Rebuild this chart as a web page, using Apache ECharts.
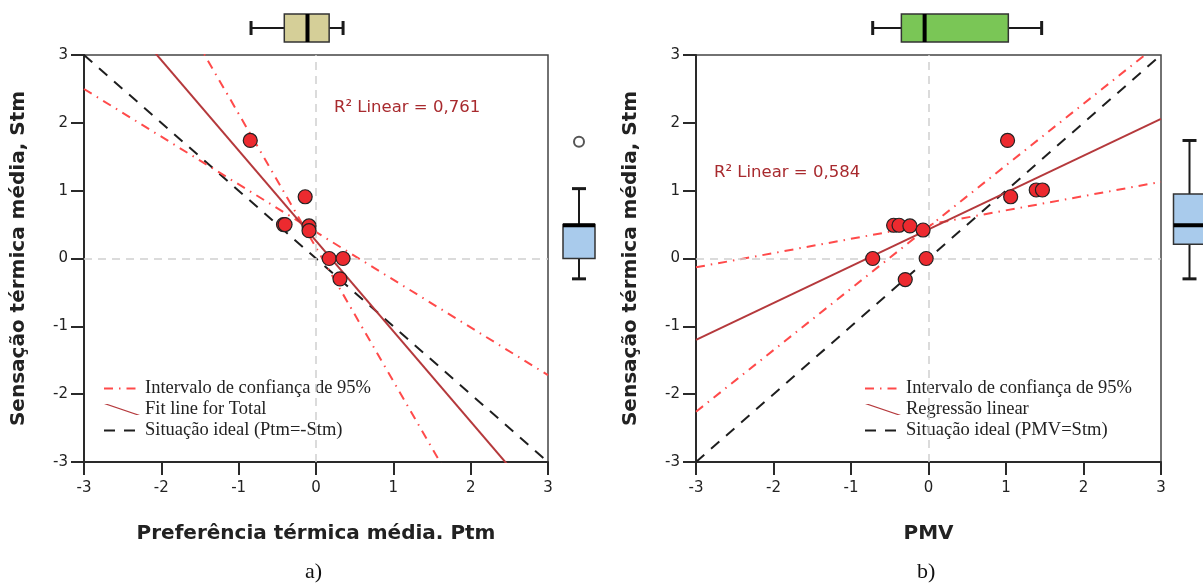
<!DOCTYPE html>
<html>
<head>
<meta charset="utf-8">
<script src="https://cdn.jsdelivr.net/npm/echarts@6/dist/echarts.min.js"></script>
<style>html,body{margin:0;padding:0;background:#fff}#c{width:1203px;height:583px}</style>
</head>
<body>
<div id="c"></div>
<script>
// ---- data ----
const axisTicks = [-3, -2, -1, 0, 1, 2, 3];
// a) Preferência térmica média (Ptm) vs Sensação térmica média (Stm)
const ptmX  = [-0.85, -0.14, -0.42, -0.40, -0.09, -0.09, 0.17, 0.35, 0.31];
const stmA  = [ 1.74,  0.91,  0.50,  0.50,  0.48,  0.41, 0.00, 0.00, -0.30];
// b) PMV vs Stm
const pmvX  = [-0.45, -0.38, -0.24, -0.07, -0.72, -0.03, -0.30, 1.02, 1.06, 1.39, 1.47];
const stmB  = [ 0.49,  0.49,  0.48,  0.42,  0.00,  0.00, -0.31, 1.74, 0.91, 1.01, 1.01];
// lines as [slope, intercept]
const fitA    = [-1.332, 0.26];
const ciA1    = [-0.703, 0.39];
const ciA2    = [-1.971, 0.162];
const idealA  = [-1, 0];
const fitB    = [0.543, 0.43];
const ciB1    = [0.21, 0.50];
const ciB2    = [0.908, 0.465];
const idealB  = [1, 0];
// boxplots [min, q1, median, q3, max]
const boxTopA  = [-0.84, -0.41, -0.11, 0.17, 0.35];
const boxTopB  = [-0.72, -0.35, -0.05, 1.03, 1.46];
const boxSideA = [-0.30, 0.00, 0.49, 0.50, 1.03];
const outlierSideA = [1.72];
const boxSideB = [-0.30, 0.21, 0.49, 0.95, 1.74];
const r2A = '0,761';
const r2B = '0,584';

const nameCI = 'Intervalo de confiança de 95%';
const nameFitA = 'Fit line for Total';
const nameFitB = 'Regressão linear';
const nameIdealA = 'Situação ideal (Ptm=-Stm)';
const nameIdealB = 'Situação ideal (PMV=Stm)';

const AMIN = axisTicks[0], AMAX = axisTicks[axisTicks.length - 1];
function seg(c) { return [[AMIN, c[1] + c[0] * AMIN], [AMAX, c[1] + c[0] * AMAX]]; }

const RED = '#ec2a2f', FIT = '#b5393c', CI = '#ff4a4a', DARK = '#2a2a2a';
const sans = 'DejaVu Sans';

function mainX(idx, name) {
  return {
    type: 'value', gridIndex: idx, min: AMIN, max: AMAX, interval: 1,
    name: name, nameLocation: 'middle', nameGap: 62,
    nameTextStyle: { fontFamily: sans, fontWeight: 'bold', fontSize: 20, color: '#222' },
    axisLine: { show: true, onZero: false, lineStyle: { color: DARK, width: 2 } },
    axisTick: { show: true, length: 13, lineStyle: { color: DARK, width: 2 } },
    axisLabel: { fontFamily: sans, fontSize: 15, color: '#222', margin: 19 },
    splitLine: { show: false }
  };
}
function mainY(idx) {
  return {
    type: 'value', gridIndex: idx, min: AMIN, max: AMAX, interval: 1,
    name: 'Sensação térmica média, Stm', nameLocation: 'middle', nameGap: 55,
    nameTextStyle: { fontFamily: sans, fontWeight: 'bold', fontSize: 20, color: '#222' },
    axisLine: { show: true, onZero: false, lineStyle: { color: DARK, width: 2 } },
    axisTick: { show: true, length: 13, lineStyle: { color: DARK, width: 2 } },
    axisLabel: { fontFamily: sans, fontSize: 15, color: '#222', margin: 16 },
    splitLine: { show: false }
  };
}
function hiddenVal(idx) { return { type: 'value', gridIndex: idx, min: AMIN, max: AMAX, show: false }; }
function hiddenCat(idx) { return { type: 'category', gridIndex: idx, data: ['box'], show: false, boundaryGap: true }; }

function boxRender(horizontal, halfBox, halfCap, fill) {
  return function (params, api) {
    const v = [0, 1, 2, 3, 4].map(i => api.value(i));
    const cat = api.value(5);
    const p = v.map(val => horizontal ? api.coord([val, cat]) : api.coord([cat, val]));
    const st = { stroke: '#1a1a1a', lineWidth: 2 };
    const cap = { stroke: '#1a1a1a', lineWidth: 3 };
    const ch = [];
    if (horizontal) {
      const c = p[0][1];
      ch.push({ type: 'line', shape: { x1: p[0][0], y1: c, x2: p[1][0], y2: c }, style: st });
      ch.push({ type: 'line', shape: { x1: p[3][0], y1: c, x2: p[4][0], y2: c }, style: st });
      ch.push({ type: 'line', shape: { x1: p[0][0], y1: c - halfCap, x2: p[0][0], y2: c + halfCap }, style: cap });
      ch.push({ type: 'line', shape: { x1: p[4][0], y1: c - halfCap, x2: p[4][0], y2: c + halfCap }, style: cap });
      ch.push({ type: 'rect', shape: { x: p[1][0], y: c - halfBox, width: p[3][0] - p[1][0], height: 2 * halfBox }, style: { fill: fill, stroke: '#333', lineWidth: 1.5 } });
      ch.push({ type: 'line', shape: { x1: p[2][0], y1: c - halfBox, x2: p[2][0], y2: c + halfBox }, style: { stroke: '#000', lineWidth: 4 } });
    } else {
      const c = p[0][0];
      ch.push({ type: 'line', shape: { x1: c, y1: p[0][1], x2: c, y2: p[1][1] }, style: st });
      ch.push({ type: 'line', shape: { x1: c, y1: p[3][1], x2: c, y2: p[4][1] }, style: st });
      ch.push({ type: 'line', shape: { x1: c - halfCap, y1: p[0][1], x2: c + halfCap, y2: p[0][1] }, style: cap });
      ch.push({ type: 'line', shape: { x1: c - halfCap, y1: p[4][1], x2: c + halfCap, y2: p[4][1] }, style: cap });
      ch.push({ type: 'rect', shape: { x: c - halfBox, y: p[3][1], width: 2 * halfBox, height: p[1][1] - p[3][1] }, style: { fill: fill, stroke: '#333', lineWidth: 1.5 } });
      ch.push({ type: 'line', shape: { x1: c - halfBox, y1: p[2][1], x2: c + halfBox, y2: p[2][1] }, style: { stroke: '#000', lineWidth: 4 } });
    }
    return { type: 'group', children: ch };
  };
}

function lineSeries(name, coef, axis, color, type, width, z) {
  return {
    name: name, type: 'line', xAxisIndex: axis, yAxisIndex: axis, data: seg(coef),
    symbol: 'none', clip: true, silent: true, animation: false, z: z || 3,
    lineStyle: { color: color, width: width, type: type }, itemStyle: { color: color }
  };
}
function zeroLines() {
  return {
    silent: true, symbol: 'none', animation: false,
    label: { show: false },
    lineStyle: { color: '#cfcfcf', type: [8, 6], width: 1.5 },
    data: [{ xAxis: 0 }, { yAxis: 0 }]
  };
}

const ciType = [9, 6, 1.5, 6];
const idealType = [11, 9];

const legendText = { fontFamily: 'Liberation Serif', fontSize: 18.5, color: '#222' };
const fitIcon = 'path://M0,0 L4,0 L40,12 L36,12 Z';
const noSym = { opacity: 0 };

const option = {
  animation: false,
  backgroundColor: '#fff',
  grid: [
    { left: 84, top: 55, width: 464, height: 407, show: true, borderColor: '#444', borderWidth: 1.5, backgroundColor: 'transparent' },
    { left: 696, top: 55, width: 465, height: 407, show: true, borderColor: '#444', borderWidth: 1.5, backgroundColor: 'transparent' },
    { left: 84, top: 14, width: 464, height: 28 },
    { left: 696, top: 14, width: 465, height: 28 },
    { left: 563, top: 55, width: 32, height: 407 },
    { left: 1176, top: 55, width: 32, height: 407 }
  ],
  xAxis: [
    mainX(0, 'Preferência térmica média. Ptm'),
    mainX(1, 'PMV'),
    hiddenVal(2), hiddenVal(3),
    hiddenCat(4), hiddenCat(5)
  ],
  yAxis: [
    mainY(0), mainY(1),
    hiddenCat(2), hiddenCat(3),
    hiddenVal(4), hiddenVal(5)
  ],
  legend: [
    {
      left: 98, top: 374, orient: 'vertical', itemWidth: 36, itemHeight: 12, itemGap: 2,
      textStyle: legendText, selectedMode: false,
      data: [
        { name: nameCI, itemStyle: noSym },
        { name: nameFitA, icon: fitIcon },
        { name: nameIdealA, itemStyle: noSym }
      ]
    },
    {
      left: 859, top: 374, orient: 'vertical', itemWidth: 36, itemHeight: 12, itemGap: 2,
      textStyle: legendText, selectedMode: false,
      data: [
        { name: nameCI, itemStyle: noSym },
        { name: nameFitB, icon: fitIcon },
        { name: nameIdealB, itemStyle: noSym }
      ]
    }
  ],
  graphic: [
    { type: 'text', left: 334, top: 99, style: { text: 'R² Linear = ' + r2A, fontFamily: sans, fontSize: 16.5, fill: '#a82a2e' } },
    { type: 'text', left: 714, top: 164, style: { text: 'R² Linear = ' + r2B, fontFamily: sans, fontSize: 16.5, fill: '#a82a2e' } },
    { type: 'text', left: 305, top: 561, style: { text: 'a)', fontFamily: 'Liberation Serif', fontSize: 22, fill: '#111' } },
    { type: 'text', left: 917, top: 561, style: { text: 'b)', fontFamily: 'Liberation Serif', fontSize: 22, fill: '#111' } }
  ],
  series: [
    // chart a
    Object.assign(lineSeries(nameIdealA, idealA, 0, '#1e1e1e', idealType, 2, 3), { markLine: zeroLines() }),
    lineSeries(nameCI, ciA1, 0, CI, ciType, 2, 4),
    lineSeries(nameCI, ciA2, 0, CI, ciType, 2, 4),
    lineSeries(nameFitA, fitA, 0, FIT, 'solid', 2, 5),
    {
      type: 'scatter', xAxisIndex: 0, yAxisIndex: 0, z: 10, symbol: 'circle', symbolSize: 14,
      itemStyle: { color: RED, borderColor: '#222', borderWidth: 1.2, opacity: 1 },
      data: ptmX.map((x, i) => [x, stmA[i]])
    },
    // chart b
    Object.assign(lineSeries(nameIdealB, idealB, 1, '#1e1e1e', idealType, 2, 3), { markLine: zeroLines() }),
    lineSeries(nameCI, ciB1, 1, CI, ciType, 2, 4),
    lineSeries(nameCI, ciB2, 1, CI, ciType, 2, 4),
    lineSeries(nameFitB, fitB, 1, FIT, 'solid', 2, 5),
    {
      type: 'scatter', xAxisIndex: 1, yAxisIndex: 1, z: 10, symbol: 'circle', symbolSize: 14,
      itemStyle: { color: RED, borderColor: '#222', borderWidth: 1.2, opacity: 1 },
      data: pmvX.map((x, i) => [x, stmB[i]])
    },
    // boxplots
    {
      type: 'custom', xAxisIndex: 2, yAxisIndex: 2, renderItem: boxRender(true, 14, 7, '#d5cf98'),
      encode: { x: [0, 1, 2, 3, 4], y: 5 }, data: [boxTopA.concat([0])], silent: true
    },
    {
      type: 'custom', xAxisIndex: 3, yAxisIndex: 3, renderItem: boxRender(true, 14, 7, '#7ac656'),
      encode: { x: [0, 1, 2, 3, 4], y: 5 }, data: [boxTopB.concat([0])], silent: true
    },
    {
      type: 'custom', xAxisIndex: 4, yAxisIndex: 4, renderItem: boxRender(false, 16, 7, '#a9cbec'),
      encode: { y: [0, 1, 2, 3, 4], x: 5 }, data: [boxSideA.concat([0])], silent: true
    },
    {
      type: 'scatter', xAxisIndex: 4, yAxisIndex: 4, symbol: 'circle', symbolSize: 10, z: 10,
      itemStyle: { color: '#fff', borderColor: '#555', borderWidth: 2, opacity: 1 },
      data: outlierSideA.map(v => ['box', v]), silent: true
    },
    {
      type: 'custom', xAxisIndex: 5, yAxisIndex: 5, renderItem: boxRender(false, 16, 7, '#a9cbec'),
      encode: { y: [0, 1, 2, 3, 4], x: 5 }, data: [boxSideB.concat([0])], silent: true
    }
  ]
};

const chart = echarts.init(document.getElementById('c'), null, { renderer: 'canvas' });
chart.setOption(option);
</script>
</body>
</html>
